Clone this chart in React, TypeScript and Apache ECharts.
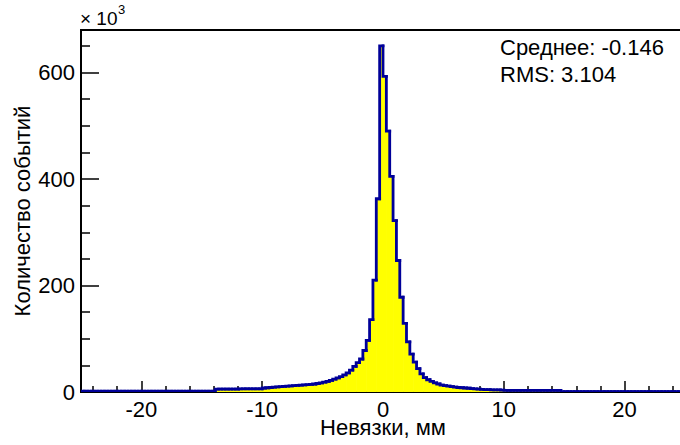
import React, { useEffect, useRef } from "react";
import * as echarts from "echarts";

// Histogram range and binning (counts in thousands, "× 10³")
const xMin = -25;
const xMax = 25;
const binCount = 180;

const leftTail = [
  1.5, 1.5, 1.5, 1.5, 1.5, 1.5, 1.5, 1.5, 1.5, 1.5,
  1.5, 1.5, 1.5, 1.5, 1.5, 1.5, 1.5, 1.5, 1.5, 1.5,
  1.5, 1.5, 1.5, 1.5, 1.5, 1.5, 1.5, 1.5, 1.5, 1.5,
  1.5, 1.5, 1.5, 1.5, 1.5, 1.5, 1.5, 1.5, 1.5, 1.5,
  5.5, 5.5, 5.5, 5.5, 5.5, 5.5, 5.5, 6, 6, 6, 6, 6, 6, 6,
];
const leftCore = [
  7.5, 8, 8.5, 9, 9.5, 10, 10.5, 11, 11.5, 12,
  12.5, 13, 13.5, 14, 14.5, 15, 16, 17, 18.5, 20,
  22, 24, 26.5, 29, 32, 36, 41, 48, 55, 62,
  78, 97, 136, 210, 363, 650,
];
const rightCore = [
  593, 490, 405, 322, 247, 178, 129, 94, 71, 56,
  44, 34, 27, 23, 20, 17, 15, 13, 12, 11,
  10, 9, 8.5, 8, 7.5, 7, 6.5, 6, 5.5, 5,
  4.5, 4.5, 4, 4, 4, 3.5,
];
const rightTail = [
  3, 3, 3, 3, 3, 3, 3, 3, 3, 3, 3, 3, 3, 3, 3, 3, 3,
  0.8, 0.8, 0.8, 0.8, 0.8, 0.8, 0.8, 0.8, 0.8, 0.8,
  0.8, 0.8, 0.8, 0.8, 0.8, 0.8, 0.8, 0.8, 0.8, 0.8,
  0.8, 0.8, 0.8, 0.8, 0.8, 0.8, 0.8, 0.8, 0.8, 0.8,
  0.8, 0.8, 0.8, 0.8, 0.8, 0.8, 0.8, 0.8,
];
const counts = [...leftTail, ...leftCore, ...rightCore, ...rightTail];

const xMajorTicks = [-20, -10, 0, 10, 20];
const xMinorTicks = [-24, -22, -18, -16, -14, -12, -8, -6, -4, -2, 2, 4, 6, 8, 12, 14, 16, 18, 22, 24];
const yMin = 0;
const yMax = 680;
const yMajorTicks = [0, 200, 400, 600];
const yMinorTicks = [50, 100, 150, 250, 300, 350, 450, 500, 550, 650];

const xTitle = "Невязки, мм";
const yTitle = "Количество событий";
const statsLines = ["Среднее: -0.146", "RMS: 3.104"];
const multiplierBase = "× 10";
const multiplierExp = "3";

const FONT = "'Liberation Sans', Arial, Helvetica, sans-serif";
const FILL = "#ffff00";
const EDGE = "#000099";

export default function App() {
  const ref = useRef<HTMLDivElement>(null);

  useEffect(() => {
    if (!ref.current) return;
    const chart = echarts.init(ref.current, undefined, { renderer: "svg" });
    const binWidth = (xMax - xMin) / binCount;
    const data = counts.map((c, i) => [
      xMin + i * binWidth,
      xMin + (i + 1) * binWidth,
      c,
      i > 0 ? counts[i - 1] : 0,
    ]);

    const tickStyle = { color: "#000", width: 1.5 };

    chart.setOption({
      animation: false,
      backgroundColor: "#fff",
      textStyle: { fontFamily: FONT },
      grid: {
        left: 81,
        right: -5,
        top: 30,
        bottom: 53,
        show: true,
        borderColor: "#000",
        borderWidth: 2,
        backgroundColor: "transparent",
        outerBoundsMode: "none",
        containLabel: false,
      },
      xAxis: [
        {
          type: "value",
          min: xMin,
          max: xMax,
          position: "bottom",
          axisLine: { show: true, onZero: false, lineStyle: { color: "#000", width: 2 } },
          axisTick: { show: true, inside: true, length: 11, customValues: xMajorTicks, lineStyle: tickStyle },
          axisLabel: {
            customValues: xMajorTicks,
            fontSize: 22,
            lineHeight: 18,
            color: "#000",
            margin: 8,
            fontFamily: FONT,
          },
          splitLine: { show: false },
          name: xTitle,
          nameLocation: "middle",
          nameGap: 26,
          nameMoveOverlap: false,
          nameTextStyle: { fontSize: 22, lineHeight: 18, color: "#000", fontFamily: FONT },
        },
        {
          type: "value",
          min: xMin,
          max: xMax,
          position: "bottom",
          axisLine: { show: false, onZero: false },
          axisTick: { show: true, inside: true, length: 6, customValues: xMinorTicks, lineStyle: tickStyle },
          axisLabel: { show: false },
          splitLine: { show: false },
        },
      ],
      yAxis: [
        {
          type: "value",
          min: yMin,
          max: yMax,
          position: "left",
          axisLine: { show: true, onZero: false, lineStyle: { color: "#000", width: 2 } },
          axisTick: { show: true, inside: true, length: 18, customValues: yMajorTicks, lineStyle: tickStyle },
          axisLabel: { customValues: yMajorTicks, fontSize: 22, color: "#000", margin: 6, fontFamily: FONT },
          splitLine: { show: false },
          name: yTitle,
          nameLocation: "middle",
          nameGap: 48,
          nameMoveOverlap: false,
          nameTextStyle: { fontSize: 22, color: "#000", fontFamily: FONT },
        },
        {
          type: "value",
          min: yMin,
          max: yMax,
          position: "left",
          axisLine: { show: false, onZero: false },
          axisTick: { show: true, inside: true, length: 9, customValues: yMinorTicks, lineStyle: tickStyle },
          axisLabel: { show: false },
          splitLine: { show: false },
        },
      ],
      series: [
        {
          type: "custom",
          xAxisIndex: 0,
          yAxisIndex: 0,
          data,
          encode: { x: [0, 1], y: 2 },
          clip: true,
          z: 3,
          renderItem: (_params: any, api: any) => {
            const l = api.value(0);
            const r = api.value(1);
            const v = api.value(2);
            const pv = api.value(3);
            const base = api.coord([l, 0]);
            const topR = api.coord([r, v]);
            const topL = api.coord([l, v]);
            const prev = api.coord([l, pv]);
            return {
              type: "group",
              children: [
                {
                  type: "rect",
                  z2: 0,
                  shape: {
                    x: base[0],
                    y: topR[1],
                    width: topR[0] - base[0] + 0.6,
                    height: base[1] - topR[1],
                  },
                  style: { fill: FILL },
                },
                {
                  type: "polyline",
                  z2: 10,
                  shape: { points: [prev, topL, topR] },
                  style: { stroke: EDGE, lineWidth: 2.8, fill: null, lineCap: "square", lineJoin: "miter" },
                },
              ],
            };
          },
        },
      ],
      graphic: [
        {
          type: "text",
          left: 80,
          top: 9,
          style: { text: multiplierBase, fontSize: 19, fill: "#000", fontFamily: FONT },
        },
        {
          type: "text",
          left: 118,
          top: 3,
          style: { text: multiplierExp, fontSize: 13, fill: "#000", fontFamily: FONT },
        },
        {
          type: "text",
          left: 500,
          top: 36,
          style: { text: statsLines[0], fontSize: 22, fill: "#000", fontFamily: FONT },
        },
        {
          type: "text",
          left: 500,
          top: 63,
          style: { text: statsLines[1], fontSize: 22, fill: "#000", fontFamily: FONT },
        },
      ],
    });
    return () => chart.dispose();
  }, []);

  return (
    <div
      ref={ref}
      style={{ position: "fixed", left: 0, top: 0, width: 680, height: 445, background: "#fff" }}
    />
  );
}
